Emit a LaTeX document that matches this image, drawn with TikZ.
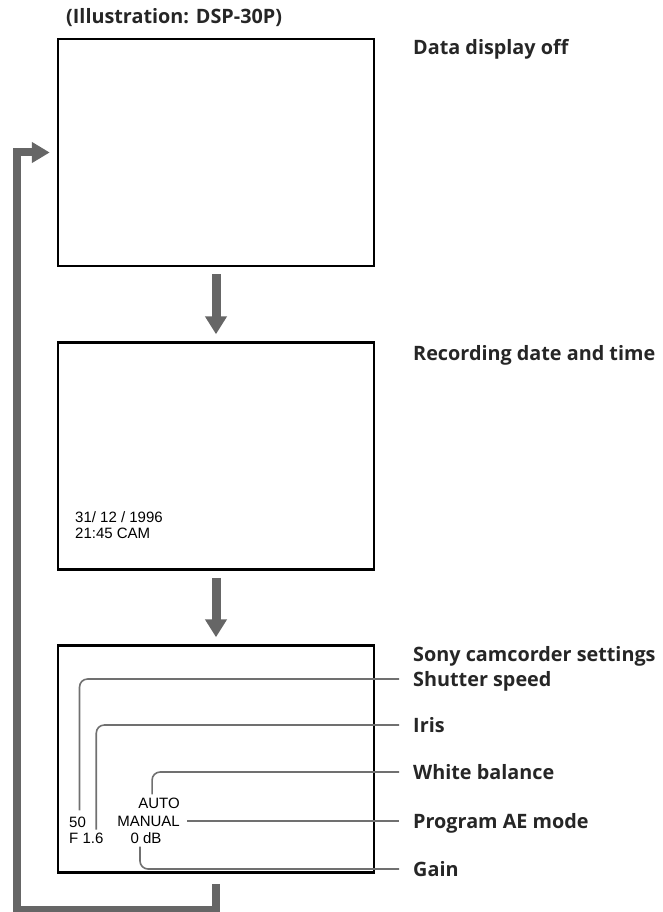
\documentclass[tikz,border=0pt]{standalone}
\usepackage{fontspec}
\setmainfont{Open Sans}
\newfontfamily\dispfont{Liberation Sans}
\usetikzlibrary{arrows.meta}
\definecolor{arrowgray}{HTML}{666666}
\definecolor{leadgray}{HTML}{707070}
\definecolor{inkgray}{HTML}{262626}
\tikzset{
  screen/.style={draw, line width=2.5pt, minimum width=316pt, minimum height=227pt, inner sep=0pt},
  bigarrow/.style={draw=arrowgray, line width=9pt, -{Triangle[length=18pt,width=21pt]}},
  loopline/.style={draw=arrowgray, line width=8pt, line join=miter, -{Triangle[length=18pt,width=20pt]}},
  lead/.style={draw=leadgray, line width=1.6pt, rounded corners=8pt},
  caption/.style={anchor=west, inner sep=0pt, text height=14pt, text depth=0pt, text=inkgray, font=\bfseries\fontsize{19.8}{24}\selectfont},
  readout/.style={inner sep=0pt, font=\dispfont\fontsize{15}{18}\selectfont}
}
\begin{document}
\begin{tikzpicture}[x=1pt,y=1pt]
\useasboundingbox (0,0) rectangle (663,-912);

\node[caption] (title) at (66,-17) {(Illustration: DSP-30P)};

\node[screen] (off) at (216,-152.5) {};
\node[screen] (rec) at (216,-456) {};
\node[screen] (sett) at (216,-759) {};

\draw[bigarrow] ([yshift=-7pt]off.south) -- ([yshift=7pt]rec.north);
\draw[bigarrow] ([yshift=-7pt]rec.south) -- ([yshift=7pt]sett.north);

\coordinate (loopcorner) at (17,-910);
\draw[loopline] ([yshift=-10pt]sett.south) |- (loopcorner) |- ([xshift=-7pt]off.west);

\node[caption] (loff) at (413,-48) {Data display off};
\node[caption] (lrec) at (413,-353) {Recording date and time};
\node[caption] (lsett) at (413,-654) {Sony camcorder settings};
\node[caption] (lshutter) at (413,-679) {Shutter speed};
\node[caption] (liris) at (413,-725) {Iris};
\node[caption] (lwhite) at (413,-772) {White balance};
\node[caption] (lprog) at (413,-821) {Program AE mode};
\node[caption] (lgain) at (413,-869) {Gain};

\node[readout, anchor=west] (date) at (75,-517) {31/ 12 / 1996};
\node[readout, anchor=west] (time) at (75,-533) {21:45 CAM};

\node[readout, anchor=west] (shutter) at (69,-822) {50};
\node[readout, anchor=west] (iris) at (69,-838) {F 1.6};
\node[readout, anchor=east] (white) at (180,-803) {AUTO};
\node[readout, anchor=east] (prog) at (180,-821) {MANUAL};
\node[readout] (gain) at (146,-838) {0 dB};

\draw[lead] ([shift={(2pt,6pt)}]shutter.north) |- ([xshift=-14pt]lshutter.west);
\draw[lead] ([shift={(10pt,3pt)}]iris.north) |- ([xshift=-14pt]liris.west);
\draw[lead] ([shift={(-7pt,3pt)}]white.north) |- ([xshift=-14pt]lwhite.west);
\draw[lead] ([xshift=7pt]prog.east) -- ([xshift=-14pt]lprog.west);
\draw[lead] ([shift={(-6pt,-3pt)}]gain.south) |- ([xshift=-14pt]lgain.west);
\end{tikzpicture}
\end{document}
